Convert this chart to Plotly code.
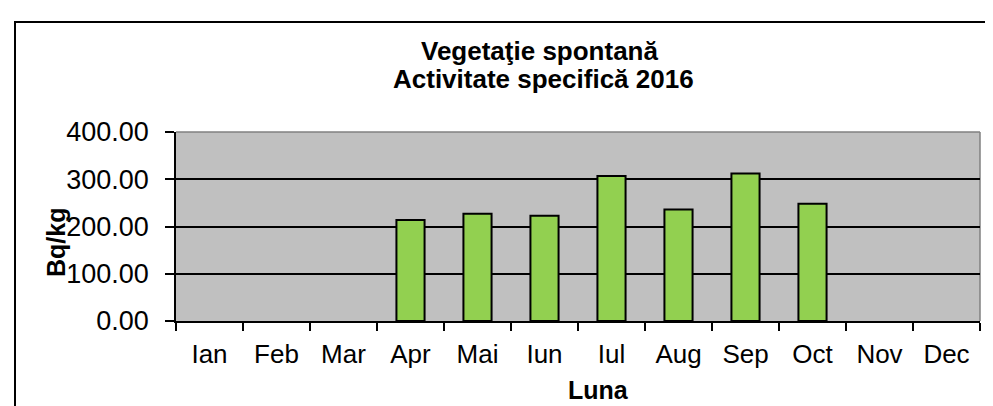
import plotly.graph_objects as go

months = ["Ian", "Feb", "Mar", "Apr", "Mai", "Iun", "Iul", "Aug", "Sep", "Oct", "Nov", "Dec"]
values = [None, None, None, 214, 227, 223, 307, 236, 312, 248, None, None]
y_ticks = [0, 100, 200, 300, 400]
y_tick_labels = ["0.00", "100.00", "200.00", "300.00", "400.00"]
title_line1 = "Vegetaţie spontană"
title_line2 = "Activitate specifică 2016"
x_title = "Luna"
y_title = "Bq/kg"

W, H = 993, 406
L, R, T, B = 168, 21, 124, 93
pw = W - L - R
ph = H - T - B

def px(x):
    return (x - L) / pw

def py(y):
    return (H - B - y) / ph

FONT = "Liberation Sans, Arial, sans-serif"

fig = go.Figure()
fig.add_trace(go.Bar(
    x=months, y=values, width=0.42,
    marker=dict(color="#92D050", line=dict(color="black", width=2)),
    showlegend=False,
))

fig.update_layout(
    width=W, height=H,
    margin=dict(l=L, r=R, t=T, b=B, pad=0),
    paper_bgcolor="white",
    plot_bgcolor="#C0C0C0",
    font=dict(family=FONT, color="black", size=26),
    xaxis=dict(
        type="category", categoryorder="array", categoryarray=months,
        range=[-0.5, 11.5], tickson="boundaries", ticks="outside", ticklen=8,
        tickwidth=1.5, tickcolor="black", showline=True, linecolor="black",
        linewidth=2, showgrid=False, tickfont=dict(size=26, family=FONT),
        ticklabelstandoff=9, fixedrange=True,
    ),
    yaxis=dict(
        range=[0, 400], tickvals=y_ticks, ticktext=y_tick_labels,
        ticks="outside", ticklen=9, tickwidth=1.5, tickcolor="black",
        showline=True, linecolor="black", linewidth=1.5,
        showgrid=True, gridcolor="black", gridwidth=2, zeroline=False,
        tickfont=dict(size=27, family=FONT), ticklabelstandoff=11,
    ),
    shapes=[
        dict(type="line", xref="paper", yref="paper", x0=0, x1=1, y0=1, y1=1,
             line=dict(color="#808080", width=1.5), layer="above"),
        dict(type="line", xref="paper", yref="paper", x0=1, x1=1, y0=0, y1=1,
             line=dict(color="#808080", width=1.5), layer="below"),
        dict(type="rect", xref="paper", yref="paper",
             x0=px(7), x1=px(990), y0=py(420), y1=py(14),
             line=dict(color="black", width=2), fillcolor="rgba(0,0,0,0)"),
    ],
    annotations=[
        dict(text=f"<b>{title_line1}</b>", xref="paper", yref="paper",
             x=px(531), y=py(43), xanchor="center", yanchor="middle",
             showarrow=False, font=dict(size=26, family=FONT)),
        dict(text=f"<b>{title_line2}</b>", xref="paper", yref="paper",
             x=px(535), y=py(71), xanchor="center", yanchor="middle",
             showarrow=False, font=dict(size=26, family=FONT)),
        dict(text=f"<b>{x_title}</b>", xref="paper", yref="paper",
             x=px(590), y=py(382), xanchor="center", yanchor="middle",
             showarrow=False, font=dict(size=25, family=FONT)),
        dict(text=f"<b>{y_title}</b>", xref="paper", yref="paper",
             x=px(48), y=py(235), xanchor="center", yanchor="middle",
             textangle=-90, showarrow=False, font=dict(size=25, family=FONT)),
    ],
)

fig.write_html("out.html")
